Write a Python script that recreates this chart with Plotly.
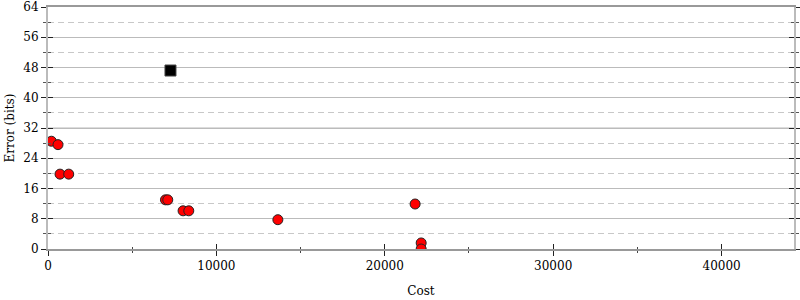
import plotly.graph_objects as go

# Data
cost_red = [202, 594, 713, 1230, 6976, 7112, 8021, 8360, 13650, 21800, 22160, 22160]
error_red = [28.5, 27.6, 19.8, 19.8, 13.0, 13.0, 10.1, 10.1, 7.75, 11.9, 1.6, 0.0]
cost_black = [7273]
error_black = [47.2]

x_ticks = [0, 10000, 20000, 30000, 40000]
x_ticklabels = ["0", "10000", "20000", "30000", "40000"]
y_ticks = [0, 8, 16, 24, 32, 40, 48, 56, 64]
XMAX = 44300
FONT = "DejaVu Serif, Liberation Serif, serif"

fig = go.Figure()
fig.add_trace(go.Scatter(
    x=cost_red, y=error_red, mode="markers", cliponaxis=True,
    marker=dict(symbol="circle", size=10, color="red", line=dict(color="#222", width=1)),
    showlegend=False))
fig.add_trace(go.Scatter(
    x=cost_black, y=error_black, mode="markers",
    marker=dict(symbol="square", size=11, color="black", line=dict(color="#444", width=1)),
    showlegend=False))

# dummy trace on overlaid axes for inside ticks
fig.add_trace(go.Scatter(x=[None], y=[None], xaxis="x2", yaxis="y2", showlegend=False))

fig.add_shape(type="line", xref="paper", x0=0, x1=1, yref="y", y0=32, y1=32,
              line=dict(color="#dcdcdc", width=2), layer="below")

fig.update_layout(
    width=800, height=300,
    margin=dict(l=48, r=6, t=7, b=51),
    paper_bgcolor="white", plot_bgcolor="white",
    font=dict(family=FONT, size=12, color="black"),
    xaxis=dict(
        range=[0, XMAX], tickvals=x_ticks, ticktext=x_ticklabels, automargin=False,
        ticks="outside", ticklen=5, tickwidth=1, tickcolor="#222",
        minor=dict(dtick=5000, tick0=0, ticks="outside", ticklen=2, tickcolor="#444", showgrid=False),
        showgrid=False, zeroline=False,
        showline=True, linecolor="#999", linewidth=2, mirror=True,
        title=dict(text="Cost", font=dict(family=FONT, size=12), standoff=14),
        tickfont=dict(family=FONT, size=12),
    ),
    yaxis=dict(
        range=[0, 64], tickvals=y_ticks, automargin=False,
        ticks="outside", ticklen=5, tickwidth=1, tickcolor="#222",
        showgrid=True, gridcolor="#bbb", gridwidth=1,
        minor=dict(dtick=4, tick0=0, ticks="outside", ticklen=3, tickcolor="#555",
                   showgrid=True, gridcolor="#c8c8c8", griddash="6px,4px", gridwidth=1),
        zeroline=False,
        showline=True, linecolor="#bbb", linewidth=2, mirror="ticks",
        title=dict(text="Error (bits)", font=dict(family=FONT, size=12), standoff=6),
        tickfont=dict(family=FONT, size=12),
    ),
    xaxis2=dict(
        range=[0, XMAX], overlaying="x", anchor="y2", tickvals=x_ticks, automargin=False,
        ticks="inside", ticklen=5, tickwidth=1, tickcolor="#222",
        minor=dict(dtick=5000, tick0=0, ticks="inside", ticklen=2, tickcolor="#444"),
        showticklabels=False, showgrid=False, zeroline=False, showline=False,
    ),
    yaxis2=dict(
        range=[0, 64], overlaying="y", anchor="x2", tickvals=y_ticks, automargin=False,
        ticks="inside", ticklen=5, tickwidth=1, tickcolor="#222",
        minor=dict(dtick=4, tick0=0, ticks="inside", ticklen=3, tickcolor="#555", showgrid=False),
        showticklabels=False, showgrid=False, zeroline=False, showline=False, mirror="ticks",
    ),
)

fig.write_html("out.html")
